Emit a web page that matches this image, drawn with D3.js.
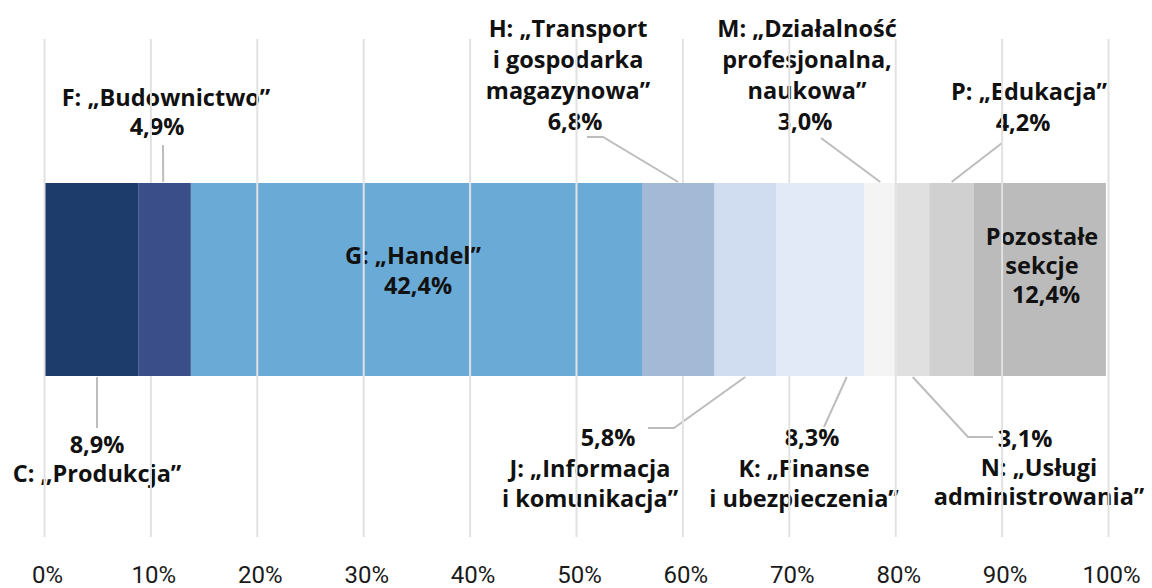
<!DOCTYPE html>
<html lang="pl">
<head>
<meta charset="utf-8">
<script src="https://cdn.jsdelivr.net/npm/d3@7"></script>
<style>
  html, body { margin: 0; padding: 0; background: #ffffff; }
  svg { display: block; }
  .lbl { font-family: "Open Sans", Roboto, sans-serif; font-weight: 700; font-size: 23.5px; fill: #111111; }
  .tick-lbl { font-family: Roboto, "Open Sans", sans-serif; font-weight: 400; font-size: 24px; fill: #1a1a1a; }
</style>
</head>
<body>
<svg id="chart" width="1152" height="588"></svg>
<script>
// Sections of the economy (PKD) and their shares, in %
const sectionCodes = ["C", "F", "G", "H", "J", "K", "M", "N", "P", "R"];
const sectionNames = [
  ["C: „Produkcja”"],
  ["F: „Budownictwo”"],
  ["G: „Handel”"],
  ["H: „Transport", "i gospodarka", "magazynowa”"],
  ["J: „Informacja", "i komunikacja”"],
  ["K: „Finanse", "i ubezpieczenia”"],
  ["M: „Działalność", "profesjonalna,", "naukowa”"],
  ["N: „Usługi", "administrowania”"],
  ["P: „Edukacja”"],
  ["Pozostałe", "sekcje"]
];
const shares = [8.9, 4.9, 42.4, 6.8, 5.8, 8.3, 3.0, 3.1, 4.2, 12.4];
const tickValues = [0, 10, 20, 30, 40, 50, 60, 70, 80, 90, 100];

// Segment fills
const palette = ["#1d3c6b", "#3a4f8a", "#6aaad6", "#a3b9d5", "#d0dcef",
                 "#e1eaf6", "#f4f4f4", "#e0e0e0", "#d0d0d0", "#bbbbbb"];
// Segments painted above the grid layer (the rest lets the grid run across)
const raisedSegments = new Set(["F", "H", "K"]);

// Label placement: side of the bar, text anchor, first baseline, line height,
// shift of the value line, where the leader leaves the segment (fraction of its width)
// and the leader's bend points next to the text.
const labelLayout = {
  C: { side: "below", x: 97,   y: 453, lh: 29, vdx: 0,   at: 0.56, pts: [[97, 428]] },
  F: { side: "above", x: 166,  y: 106, lh: 29, vdx: -9,  at: 0.47, pts: [[163, 145]] },
  G: { side: "inside", x: 413, y: 264, lh: 30, vdx: 5 },
  H: { side: "above", x: 568,  y: 37,  lh: 31, vdx: 7,   at: 0.5,  pts: [[603, 137], [587, 137]] },
  J: { side: "below", x: 590,  y: 446, lh: 30.5, vdx: 18, at: 0.5, pts: [[674, 428], [648, 428]] },
  K: { side: "below", x: 804,  y: 446, lh: 30.5, vdx: 8,  at: 0.8, pts: [[824, 427]] },
  M: { side: "above", x: 807,  y: 37,  lh: 31, vdx: -2,  at: 0.5,  pts: [[821, 138]] },
  N: { side: "below", x: 1039, y: 447, lh: 29, vdx: -14, at: 0.5,  pts: [[968, 437], [993, 437]] },
  P: { side: "above", x: 1029, y: 100, lh: 31, vdx: -6,  at: 0.5,  pts: [[1002, 143]] },
  R: { side: "inside", x: 1042, y: 245, lh: 29, vdx: 4 }
};

const svg = d3.select("#chart");
const x = d3.scaleLinear().domain([0, 100]).range([44, 1108]);
const barTop = 183, barBottom = 376;
const gridTop = 39, gridBottom = 537;

const fmt = v => d3.format(".1f")(v).replace(".", ",") + "%";

// cumulative starts
const starts = [];
shares.reduce((acc, v) => { starts.push(acc); return acc + v; }, 0);

const segs = sectionCodes.map((code, i) => ({
  code, names: sectionNames[i], value: shares[i], start: starts[i], color: palette[i]
}));

const lowerLayer = svg.append("g");
const gridLayer = svg.append("g");
const upperLayer = svg.append("g");

function drawSegments(layer, list) {
  layer.selectAll("rect").data(list).join("rect")
    .attr("x", d => x(d.start))
    .attr("y", barTop)
    .attr("width", d => x(d.start + d.value) - x(d.start))
    .attr("height", barBottom - barTop)
    .attr("fill", d => d.color);
}
drawSegments(lowerLayer.append("g"), segs.filter(d => !raisedSegments.has(d.code)));

// leader lines
const line = d3.line();
lowerLayer.append("g").selectAll("path").data(segs.filter(d => labelLayout[d.code].pts)).join("path")
  .attr("d", d => {
    const L = labelLayout[d.code];
    const ax = x(d.start + d.value * L.at);
    const ay = L.side === "above" ? barTop - 1 : barBottom + 1;
    return line([[ax, ay], ...L.pts]);
  })
  .attr("fill", "none")
  .attr("stroke", "#bdbdbd")
  .attr("stroke-width", 2);

// labels
segs.forEach(d => {
  const L = labelLayout[d.code];
  const val = fmt(d.value);
  const lines = L.side === "below"
    ? [{ t: val, v: true }, ...d.names.map(t => ({ t }))]
    : [...d.names.map(t => ({ t })), { t: val, v: true }];
  lowerLayer.append("g").selectAll("text").data(lines).join("text")
    .attr("class", "lbl")
    .attr("text-anchor", "middle")
    .attr("x", l => L.x + (l.v ? L.vdx : 0))
    .attr("y", (l, i) => L.y + i * L.lh)
    .text(l => l.t);
});

// vertical grid with percentage ticks
const axis = d3.axisBottom(x).tickValues(tickValues)
  .tickSize(-(gridBottom - gridTop)).tickFormat(d => d + "%");
const ax = gridLayer.attr("transform", `translate(0,${gridBottom})`).call(axis);
ax.select(".domain").remove();
ax.selectAll(".tick line").attr("stroke", "#e2e2e2").attr("stroke-width", 2);
ax.selectAll(".tick text")
  .attr("class", "tick-lbl")
  .attr("y", 46).attr("dy", 0).attr("dx", 3)
  .attr("font-family", null).attr("font-size", null).attr("fill", null);

drawSegments(upperLayer, segs.filter(d => raisedSegments.has(d.code)));
</script>
</body>
</html>
